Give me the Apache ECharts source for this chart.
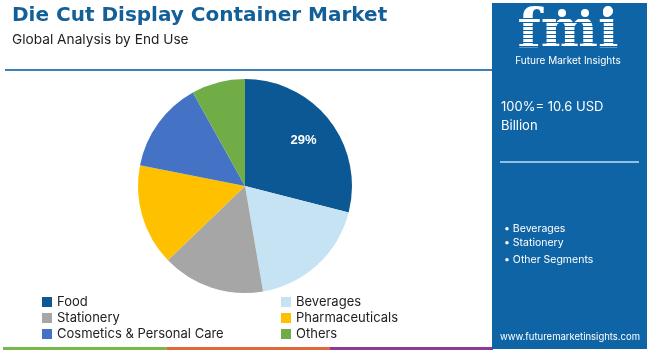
<!DOCTYPE html>
<html>
<head>
<meta charset="utf-8">
<title>Die Cut Display Container Market</title>
<script src="https://cdn.jsdelivr.net/npm/echarts@6/dist/echarts.min.js"></script>
<style>
  html, body { margin: 0; padding: 0; width: 100%; height: 100%; background: #fff; }
  #chart { width: 650px; height: 352px; }
</style>
</head>
<body>
<div id="chart"></div>
<script>
  // data
  var segments = ['Food', 'Beverages', 'Stationery', 'Pharmaceuticals', 'Cosmetics & Personal Care', 'Others'];
  var shares = [29, 18.3, 15.5, 15.3, 13.8, 8.1];
  var colors = ['#0b5894', '#c5e3f3', '#a6a6a6', '#ffc000', '#4472c4', '#70ad47'];
  var bullets = ['Beverages', 'Stationery', 'Other Segments'];

  var font = 'Inter, "Noto Sans", sans-serif';
  var panelBlue = '#0f64a6';

  var pieData = segments.map(function (name, i) {
    return { name: name, value: shares[i], itemStyle: { color: colors[i] } };
  });
  // transparent copy used only to put the 29% label further out
  var labelData = segments.map(function (name, i) {
    return {
      name: name, value: shares[i],
      itemStyle: { color: 'transparent' },
      label: { show: i === 0 }
    };
  });

  var graphics = [
    { type: 'text', x: 12, y: 16, style: { text: 'Die Cut Display Container Market', fill: '#135f98', font: 'bold 20px "DejaVu Sans", sans-serif', verticalAlign: 'middle' } },
    { type: 'text', x: 12, y: 40, style: { text: 'Global Analysis by End Use', fill: '#222', font: '13.7px ' + font, verticalAlign: 'middle' } },
    { type: 'rect', shape: { x: 5, y: 69, width: 487, height: 2 }, style: { fill: '#3d7fb8' } },
    // bottom stripes
    { type: 'rect', shape: { x: 3, y: 347, width: 164, height: 3 }, style: { fill: '#7ab648' } },
    { type: 'rect', shape: { x: 167, y: 347, width: 163, height: 3 }, style: { fill: '#e2673a' } },
    { type: 'rect', shape: { x: 330, y: 347, width: 163, height: 3 }, style: { fill: '#8e3a96' } },
    // right panel
    { type: 'rect', shape: { x: 492, y: 3, width: 155, height: 346 }, style: { fill: panelBlue } },
    { type: 'text', x: 568, y: 33, style: { text: 'fmi', fill: '#fff', font: 'bold 54px "DejaVu Serif", serif', align: 'center', verticalAlign: 'middle' } },
    { type: 'circle', shape: { cx: 562, cy: 13, r: 4 }, style: { fill: '#fff' } },
    { type: 'circle', shape: { cx: 585, cy: 13, r: 4 }, style: { fill: '#fff' } },
    { type: 'circle', shape: { cx: 607, cy: 13, r: 4 }, style: { fill: '#fff' } },
    { type: 'text', x: 568, y: 61, style: { text: 'Future Market Insights', fill: '#fff', font: '10px ' + font, align: 'center', verticalAlign: 'middle' } },
    { type: 'text', x: 501, y: 107, style: { text: '100%= 10.6 USD', fill: '#fff', font: '13px ' + font, verticalAlign: 'middle' } },
    { type: 'text', x: 501, y: 126, style: { text: 'Billion', fill: '#fff', font: '13px ' + font, verticalAlign: 'middle' } },
    { type: 'rect', shape: { x: 500, y: 161, width: 139, height: 2 }, style: { fill: '#8fc0e6' } },
    { type: 'text', x: 570, y: 337, style: { text: 'www.futuremarketinsights.com', fill: '#fff', font: '9.5px ' + font, align: 'center', verticalAlign: 'middle' } }
  ];
  // horizontal stripes over the logo letters
  for (var s = 0; s < 9; s++) {
    graphics.push({ type: 'rect', shape: { x: 513, y: 18 + s * 4, width: 112, height: 1 }, style: { fill: panelBlue } });
  }
  var bulletY = [229, 243, 260];
  bullets.forEach(function (b, i) {
    graphics.push({ type: 'text', x: 504, y: bulletY[i], style: { text: '\u2022 ' + b, fill: '#fff', font: '10.5px ' + font, verticalAlign: 'middle' } });
  });

  var legendText = { color: '#222', fontSize: 13, fontFamily: font, lineHeight: 14 };

  var option = {
    animation: false,
    color: colors,
    graphic: graphics,
    legend: [{
      orient: 'vertical', left: 42, top: 295, itemGap: 2, padding: 0,
      itemWidth: 10, itemHeight: 10, icon: 'rect',
      data: ['Food', 'Stationery', 'Cosmetics & Personal Care'],
      textStyle: legendText, selectedMode: false
    }, {
      orient: 'vertical', left: 281, top: 295, itemGap: 2, padding: 0,
      itemWidth: 10, itemHeight: 10, icon: 'rect',
      data: ['Beverages', 'Pharmaceuticals', 'Others'],
      textStyle: legendText, selectedMode: false
    }],
    series: [{
      type: 'pie',
      center: [245, 186],
      radius: [0, 107],
      startAngle: 90,
      clockwise: true,
      label: { show: false },
      labelLine: { show: false },
      emphasis: { disabled: true },
      data: pieData
    }, {
      type: 'pie',
      center: [245, 186],
      radius: [35, 107],
      startAngle: 90,
      clockwise: true,
      silent: true,
      label: {
        position: 'inside', color: '#fff', fontWeight: 'bold', fontSize: 13,
        fontFamily: 'Arial, "Liberation Sans", sans-serif',
        formatter: function (p) { return Math.round(p.value) + '%'; }
      },
      labelLine: { show: false },
      data: labelData
    }]
  };

  var chart = echarts.init(document.getElementById('chart'));
  chart.setOption(option);
</script>
</body>
</html>
